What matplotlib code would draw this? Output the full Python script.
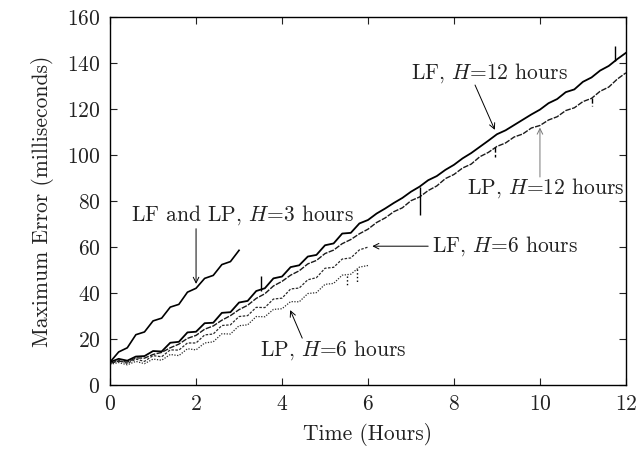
import numpy as np
import matplotlib
matplotlib.use("Agg")
import matplotlib.pyplot as plt

plt.rcParams["font.family"] = "serif"
plt.rcParams["font.serif"] = ["cmr10"]
plt.rcParams["mathtext.fontset"] = "cm"
plt.rcParams["axes.formatter.use_mathtext"] = True

# sampling grid (hours) of the read-off traces
t12 = np.round(np.arange(0, 12.01, 0.2), 1)
t6 = np.round(np.arange(0, 6.01, 0.2), 1)
t3 = np.round(np.arange(0, 3.01, 0.2), 1)

# maximum error [ms]
lf_h12 = [10, 11.4, 10.6, 12.4, 12.6, 14.8, 14.6, 18.4, 18.8, 22.9, 23.2, 26.9, 27.1, 31.4, 31.7,
          35.9, 36.6, 40.9, 42.1, 46.4, 47.2, 51.3, 52.1, 55.9, 56.6, 60.8, 61.6, 65.9, 66.2, 70.3,
          71.8, 74.6, 76.8, 79.2, 81.4, 84.1, 86.3, 89.1, 90.9, 93.6, 95.8, 98.6, 100.9, 103.6, 106.3,
          109.1, 110.8, 113.1, 115.4, 117.7, 119.8, 122.6, 124.4, 127.4, 128.6, 131.9, 133.8, 136.8,
          138.8, 141.8, 144.5]
lp_h12 = [9.5, 10.4, 10.0, 11.8, 11.7, 13.3, 14.2, 16.2, 17.8, 20.3, 21.6, 24.3, 25.7, 28.2, 30.2,
          32.8, 34.7, 37.7, 39.7, 43.1, 45.1, 47.8, 49.7, 52.7, 54.2, 57.2, 58.7, 61.5, 63.3, 65.8,
          67.8, 70.7, 72.7, 75.4, 77.1, 80.2, 81.8, 84.6, 86.6, 89.8, 91.6, 94.4, 96.1, 99.3, 101.2,
          103.8, 105.3, 107.9, 109.2, 111.8, 112.9, 115.3, 116.7, 119.4, 120.6, 123.3, 124.7, 127.8,
          129.6, 133.1, 135.8]
lf_h6 = [9.5, 10.8, 9.4, 11.3, 10.3, 12.8, 12.3, 15.3, 15.2, 18.3, 18.3, 21.8, 22.2, 25.9, 26.2,
         29.8, 30.2, 33.8, 33.7, 37.4, 37.8, 41.8, 42.2, 45.8, 46.7, 50.8, 51.2, 54.8, 55.3, 58.8, 60]
lp_h6 = [9, 9.8, 8.8, 10.3, 9.3, 11.3, 10.8, 13.3, 12.8, 15.8, 15.3, 18.3, 18.8, 22.3, 22.2, 25.8,
         26.2, 29.8, 29.7, 32.9, 33.2, 36.3, 36.2, 39.8, 40.2, 43.8, 44.2, 47.8, 48.2, 51.3, 52]
lflp_h3 = [10, 14.4, 16.2, 21.9, 23.1, 27.9, 29.1, 33.9, 35.1, 40.4, 42.1, 46.4, 47.7, 52.4, 53.7, 58.6]

# short dropouts / spikes: (time, from, to)
spikes_lf12 = [(3.5, 41, 47.5), (7.2, 86, 74), (11.75, 141, 147.5)]
spikes_lp12 = [(8.95, 103.5, 99), (11.2, 125, 121.5)]
spikes_lp6 = [(5.5, 47.5, 43.5), (5.75, 50.5, 45)]

fig = plt.figure(figsize=(6.4, 4.53), dpi=100)
ax = fig.add_axes([0.172, 0.150, 0.806, 0.812])

ax.plot(t3, lflp_h3, color="black", lw=1.2)
ax.plot(t12, lf_h12, color="black", lw=1.3)
ax.plot(t12, lp_h12, color="#1a1a1a", lw=1.0, dashes=(4, 1))
ax.plot(t6, lf_h6, color="#2a2a2a", lw=0.9, dashes=(2, 1.2))
ax.plot(t6, lp_h6, color="#2a2a2a", lw=0.9, dashes=(1, 1.2))
for s, st in [(spikes_lf12, "-"), (spikes_lp12, "--"), (spikes_lp6, ":")]:
    for x, a, b in s:
        ax.vlines(x, a, b, color="black", lw=1.0, linestyles=st)

fs = 15.5
ax.set_xlim(0, 12)
ax.set_ylim(0, 160)
ax.set_xticks(range(0, 13, 2))
ax.set_yticks(range(0, 161, 20))
ax.tick_params(direction="in", length=5, width=0.8, top=True, right=True,
               labelsize=fs, pad=7, colors="#222222")
for sp in ax.spines.values():
    sp.set_linewidth(1.0)
ax.set_xlabel("Time (Hours)", fontsize=fs, color="#222222", labelpad=6)
ax.set_ylabel("Maximum Error (milliseconds)", fontsize=fs, color="#222222", labelpad=9)

arr = dict(arrowstyle="->", color="black", lw=0.7, shrinkA=0, shrinkB=0)
ax.text(0.49, 74, r"LF and LP, $H$=3 hours", fontsize=fs, va="center", ha="left", color="#222222")
ax.annotate("", xy=(2.0, 44), xytext=(2.0, 68), arrowprops=arr)
ax.text(7.0, 135.5, r"LF, $H$=12 hours", fontsize=fs, va="center", ha="left", color="#222222")
ax.annotate("", xy=(8.95, 111), xytext=(8.49, 130.5), arrowprops=arr)
ax.text(8.3, 85.5, r"LP, $H$=12 hours", fontsize=fs, va="center", ha="left", color="#222222")
ax.annotate("", xy=(10.0, 112), xytext=(10.0, 90.5),
            arrowprops=dict(arr, color="#777777"))
ax.text(7.5, 60.4, r"LF, $H$=6 hours", fontsize=fs, va="center", ha="left", color="#222222")
ax.annotate("", xy=(6.1, 60.4), xytext=(7.4, 60.4), arrowprops=arr)
ax.text(3.49, 15.2, r"LP, $H$=6 hours", fontsize=fs, va="center", ha="left", color="#222222")
ax.annotate("", xy=(4.19, 32.6), xytext=(4.47, 20.4), arrowprops=arr)

fig.savefig("out.png", dpi=100)
